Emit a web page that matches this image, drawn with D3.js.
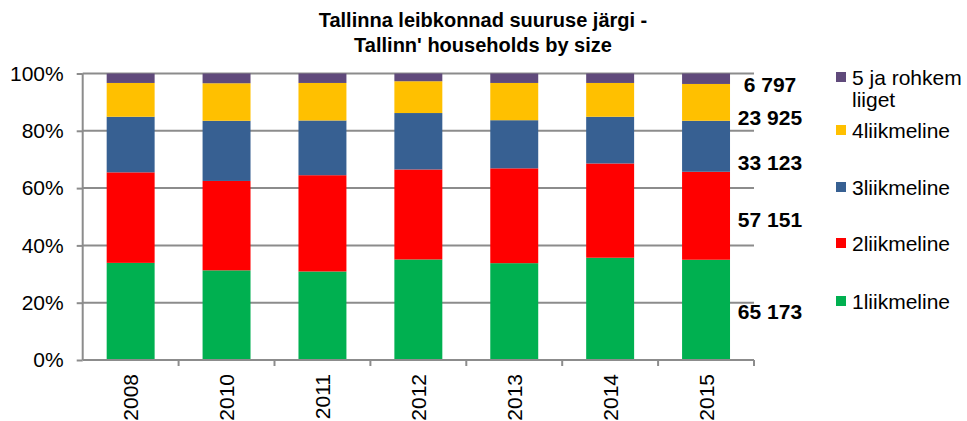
<!DOCTYPE html>
<html>
<head>
<meta charset="utf-8">
<script src="https://cdn.jsdelivr.net/npm/d3@7"></script>
<style>
body { margin: 0; background: #fff; }
text { font-family: "Liberation Sans", Arial, sans-serif; }
</style>
</head>
<body>
<script>
// shares per year (%)
var years = ["2008", "2010", "2011", "2012", "2013", "2014", "2015"];
var share1 = [33.9, 31.3, 30.9, 35.1, 33.8, 35.7, 35.0];
var share2 = [31.6, 31.2, 33.6, 31.4, 33.1, 32.9, 30.7];
var share3 = [19.4, 21.0, 19.1, 19.7, 16.8, 16.3, 17.8];
var share4 = [11.8, 13.1, 13.1, 11.1, 13.0, 11.8, 12.85];
var share5 = [3.3, 3.4, 3.3, 2.7, 3.3, 3.3, 3.65];

var seriesNames = ["1liikmeline", "2liikmeline", "3liikmeline", "4liikmeline", "5 ja rohkem liiget"];
var seriesColors = ["#00B050", "#FF0000", "#376092", "#FFC000", "#604A7B"];
var counts2015 = [65173, 57151, 33123, 23925, 6797];
var yTicks = [0, 0.2, 0.4, 0.6, 0.8, 1];

var width = 967, height = 421;
var margin = {left: 82.7, top: 73.5, right: 213, bottom: 61};
var plotW = width - margin.left - margin.right;
var plotH = height - margin.top - margin.bottom;

var svg = d3.select("body").append("svg")
    .attr("width", width)
    .attr("height", height);

// title
svg.append("text")
    .attr("x", 483).attr("y", 27)
    .attr("text-anchor", "middle")
    .style("font-size", "20px").style("font-weight", "bold")
    .text("Tallinna leibkonnad suuruse järgi -");
svg.append("text")
    .attr("x", 483).attr("y", 52)
    .attr("text-anchor", "middle")
    .style("font-size", "20px").style("font-weight", "bold")
    .text("Tallinn' households by size");

var rows = years.map(function(y, i) {
    return {year: y, s0: share1[i], s1: share2[i], s2: share3[i], s3: share4[i], s4: share5[i]};
});
var stack = d3.stack()
    .keys(["s0", "s1", "s2", "s3", "s4"])
    .offset(d3.stackOffsetExpand);
var layers = stack(rows);

var x = d3.scaleBand().domain(years).range([0, plotW]).paddingInner(0.5).paddingOuter(0.25);
var y = d3.scaleLinear().domain([0, 1]).range([plotH, 0]);

var g = svg.append("g").attr("transform", "translate(" + margin.left + "," + margin.top + ")");

// gridlines
g.selectAll(".grid").data(yTicks.slice(1)).enter().append("line")
    .attr("x1", 0).attr("x2", plotW)
    .attr("y1", function(d) { return y(d); })
    .attr("y2", function(d) { return y(d); })
    .attr("stroke", "#8c8c8c").attr("stroke-width", 2);

// bars
g.selectAll(".layer").data(layers).enter().append("g")
    .attr("fill", function(d, i) { return seriesColors[i]; })
    .selectAll("rect").data(function(d) { return d; }).enter().append("rect")
    .attr("x", function(d) { return x(d.data.year); })
    .attr("width", x.bandwidth())
    .attr("y", function(d) { return y(d[1]); })
    .attr("height", function(d) { return y(d[0]) - y(d[1]); });

// y axis
var yAxis = g.append("g")
    .call(d3.axisLeft(y).tickValues(yTicks).tickSize(6).tickPadding(13)
        .tickFormat(function(d) { return Math.round(d * 100) + "%"; }));
yAxis.select(".domain").attr("stroke", "#8c8c8c").attr("stroke-width", 2).attr("d", "M0," + plotH + "V0");
yAxis.selectAll(".tick line").attr("stroke", "#8c8c8c").attr("stroke-width", 2);
yAxis.selectAll("text").style("font-size", "21px").attr("fill", "#000");

// x axis
var xAxisG = g.append("g").attr("transform", "translate(0," + plotH + ")");
xAxisG.append("line").attr("x1", 0).attr("x2", plotW)
    .attr("stroke", "#8c8c8c").attr("stroke-width", 2);
xAxisG.selectAll(".xt").data(d3.range(1, years.length + 1)).enter().append("line")
    .attr("x1", function(i) { return i * x.step(); })
    .attr("x2", function(i) { return i * x.step(); })
    .attr("y1", 0).attr("y2", 6)
    .attr("stroke", "#8c8c8c").attr("stroke-width", 2);
xAxisG.selectAll(".xl").data(years).enter().append("text")
    .attr("transform", function(d) {
        return "translate(" + (x(d) + x.bandwidth() / 2 + 7.5) + ",14) rotate(-90)";
    })
    .attr("text-anchor", "end")
    .style("font-size", "21px")
    .text(function(d) { return d; });

// 2015 count labels beside the last bar
var fmt = function(v) { return d3.format(",")(v).replace(/,/g, " "); };
var labelNudge = [2, 4, 16, 15, 6];
var last = years.length - 1;
g.selectAll(".cnt").data(layers).enter().append("text")
    .attr("x", 770 - margin.left)
    .attr("y", function(d, i) { return (y(d[last][0]) + y(d[last][1])) / 2 + labelNudge[i] + 7.5; })
    .attr("text-anchor", "middle")
    .style("font-size", "21px").style("font-weight", "bold")
    .text(function(d, i) { return fmt(counts2015[i]); });

// legend
var legendY = [77, 130, 187, 243, 301];
var leg = svg.append("g");
var items = leg.selectAll(".li").data(seriesNames.slice().reverse()).enter().append("g")
    .attr("transform", function(d, i) { return "translate(836," + legendY[i] + ")"; });
items.append("rect")
    .attr("x", 0).attr("y", -5).attr("width", 10).attr("height", 10)
    .attr("fill", function(d, i) { return seriesColors[seriesColors.length - 1 - i]; });
items.append("text")
    .attr("x", 16).attr("y", 7.5)
    .style("font-size", "21px")
    .each(function(d) {
        var t = d3.select(this);
        if (d === "5 ja rohkem liiget") {
            t.append("tspan").attr("x", 16).text("5 ja rohkem");
            t.append("tspan").attr("x", 16).attr("dy", 22).text("liiget");
        } else {
            t.text(d);
        }
    });
</script>
</body>
</html>
